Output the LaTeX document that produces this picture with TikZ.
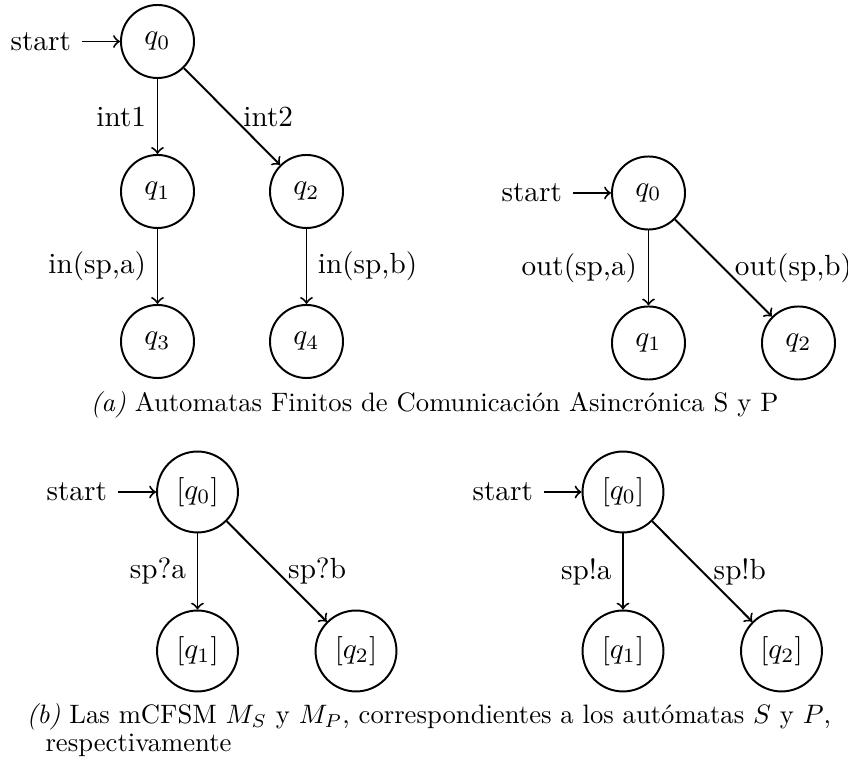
\documentclass[tikz,border=0pt]{standalone}
\usepackage{fontspec}
\begin{document}
\begin{tikzpicture}[x=0.3423pt,y=-0.3423pt,
  st/.style={circle, draw, line width=0.67pt, inner sep=0pt, minimum size=25pt},
  stb/.style={st, minimum size=27.7pt},
  edge/.style={->, line width=0.67pt},
  lbl/.style={inner sep=3.6pt},
  startnode/.style={inner sep=3.6pt, anchor=east},
  captext/.style={inner sep=0pt, anchor=base west, scale=0.912, transform shape}]
\useasboundingbox (0,0) rectangle (848,767);

% (a) left automaton S
\node[st] (A0) at (157.5,41.5) {$q_0$};
\node[st] (A1) at (157.5,191.5) {$q_1$};
\node[st] (A2) at (306.5,191.5) {$q_2$};
\node[st] (A3) at (157.5,341.5) {$q_3$};
\node[st] (A4) at (306.5,341.5) {$q_4$};
\node[startnode] (sA) at (82,41.5) {start};
\draw[edge] (sA) -- (A0);
\draw[edge] (A0) -- node[lbl,left] {int1} (A1);
\draw[edge] (A0) -- node[lbl,right] {int2} (A2);
\draw[edge] (A1) -- node[lbl,left] {in(sp,a)} (A3);
\draw[edge] (A2) -- node[lbl,right] {in(sp,b)} (A4);

% (a) right automaton P
\node[st] (B0) at (648.5,193) {$q_0$};
\node[st] (B1) at (648.5,343) {$q_1$};
\node[st] (B2) at (798.5,343) {$q_2$};
\node[startnode] (sB) at (573,193) {start};
\draw[edge] (sB) -- (B0);
\draw[edge] (B0) -- node[lbl,left] {out(sp,a)} (B1);
\draw[edge] (B0) -- node[lbl,right] {out(sp,b)} (B2);

\node[captext] (capA) at (90,412) {\textit{(a)} Automatas Finitos de Comunicación Asincrónica S y P};

% (b) left M_S
\node[stb] (C0) at (197.5,492) {$[q_0]$};
\node[stb] (C1) at (197.5,651) {$[q_1]$};
\node[stb] (C2) at (356,651) {$[q_2]$};
\node[startnode] (sC) at (118,492) {start};
\draw[edge] (sC) -- (C0);
\draw[edge] (C0) -- node[lbl,left] {sp?a} (C1);
\draw[edge] (C0) -- node[lbl,right] {sp?b} (C2);

% (b) right M_P
\node[stb] (D0) at (623,492) {$[q_0]$};
\node[stb] (D1) at (623,651) {$[q_1]$};
\node[stb] (D2) at (781.5,651) {$[q_2]$};
\node[startnode] (sD) at (544,492) {start};
\draw[edge] (sD) -- (D0);
\draw[edge] (D0) -- node[lbl,left] {sp!a} (D1);
\draw[edge] (D0) -- node[lbl,right] {sp!b} (D2);

\node[captext] (capB1) at (26,724) {\textit{(b)} Las mCFSM $M_S$ y $M_P$, correspondientes a los autómatas $S$ y $P$,};
\node[captext] (capB2) at (45,752) {respectivamente};
\end{tikzpicture}
\end{document}
